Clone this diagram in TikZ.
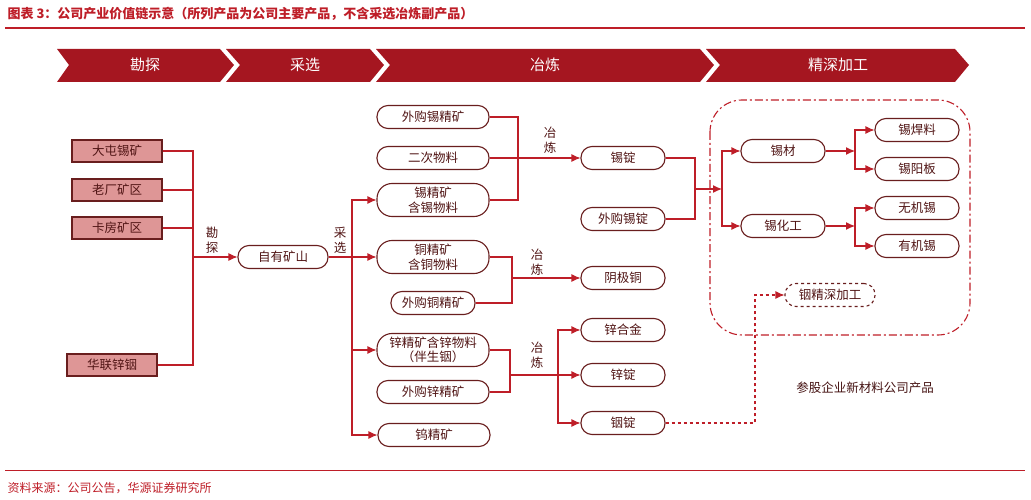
\documentclass[tikz,border=0pt]{standalone}
\usepackage{fontspec}
\setmainfont{Noto Sans CJK SC}
\usetikzlibrary{arrows.meta,positioning,shapes.arrows}

\definecolor{linered}{RGB}{190,30,40}
\definecolor{boxedge}{RGB}{105,30,30}
\definecolor{boxtext}{RGB}{80,20,20}
\definecolor{minefill}{RGB}{222,150,150}
\definecolor{bannerred}{RGB}{165,22,32}

\tikzset{
  pill/.style={draw=boxedge,line width=1.1pt,rounded corners=11pt,fill=white,
    minimum width=112pt,minimum height=23pt,inner sep=1pt,align=center,
    text=boxtext,font=\fontsize{12.5}{13}\selectfont},
  pill2/.style={pill,minimum height=33pt,rounded corners=15pt,
    font=\fontsize{12.5}{14.5}\selectfont},
  small pill/.style={pill,minimum width=84pt},
  mine/.style={draw=boxedge,line width=1.1pt,fill=minefill,minimum width=90pt,
    minimum height=22pt,text=boxtext,font=\fontsize{12.5}{13}\selectfont},
  stagelabel/.style={text=boxtext,font=\fontsize{12.5}{15}\selectfont,align=center},
  flow/.style={draw=linered,line width=1.1pt},
  arr/.style={flow,-{Latex[length=9pt,width=8pt]}},
  banner/.style={fill=bannerred,text=white,font=\fontsize{15}{16}\selectfont}
}

\begin{document}
\begin{tikzpicture}[x=1pt,y=-1pt]
\useasboundingbox (0,0) rectangle (1031,500);

% title
\node[anchor=west,text=linered,font=\fontsize{13}{14}\selectfont\bfseries] (title) at (4,14)
  {图表 3：公司产业价值链示意（所列产品为公司主要产品，不含采选冶炼副产品）};
\draw[linered,line width=1.4pt] (5,28) -- (1025,28);

% banner
\fill[bannerred] (57,49) -- (220,49) -- (234,65) -- (220,82) -- (57,82) -- (69,65) -- cycle;
\fill[bannerred] (226,49) -- (370,49) -- (384,65) -- (370,82) -- (226,82) -- (240,65) -- cycle;
\fill[bannerred] (376,49) -- (700,49) -- (714,65) -- (700,82) -- (376,82) -- (390,65) -- cycle;
\fill[bannerred] (706,49) -- (955,49) -- (969,65) -- (955,82) -- (706,82) -- (720,65) -- cycle;
\node[banner] (b1) at (145,65) {勘探};
\node[banner] (b2) at (305,65) {采选};
\node[banner] (b3) at (545,65) {冶炼};
\node[banner] (b4) at (838,65) {精深加工};

% mines
\node[mine] (datun) at (117,151) {大屯锡矿};
\node[mine] (laochang) at (117,190) {老厂矿区};
\node[mine] (kafang) at (117,228) {卡房矿区};
\node[mine] (hualian) at (112,365) {华联锌铟};
\node[pill,minimum width=90pt] (own) at (283,257) {自有矿山};
\coordinate (kt) at (193,257);
\draw[flow] (datun.east) -| (kt);
\draw[flow] (laochang.east) -| (kt);
\draw[flow] (kafang.east) -| (kt);
\draw[flow] (hualian.east) -| (kt);
\draw[arr] (kt) -- (own.west);
\node[stagelabel] (kantan) at (212,240) {勘\\探};

% concentrates
\node[pill] (wgxjk) at (433,117) {外购锡精矿};
\node[pill] (ercw) at (433,158) {二次物料};
\node[pill2] (xjk) at (433,200) {锡精矿\\含锡物料};
\node[pill2] (tjk) at (433,257) {铜精矿\\含铜物料};
\node[small pill] (wgtjk) at (433,303) {外购铜精矿};
\node[pill2] (xinjk) at (433,350) {锌精矿含锌物料\\（伴生铟）};
\node[pill] (wgxinjk) at (433,392) {外购锌精矿};
\node[pill] (wjk) at (434,435) {钨精矿};
\coordinate (cx) at (352,257);
\draw[flow] (own.east) -- (cx);
\draw[arr] (cx) |- (xjk.west);
\draw[arr] (cx) -- (tjk.west);
\draw[arr] (cx) |- (xinjk.west);
\draw[arr] (cx) |- (wjk.west);
\node[stagelabel] (caixuan) at (340,240) {采\\选};

% smelting
\node[small pill] (xd) at (623,158) {锡锭};
\node[small pill] (wgxd) at (623,219) {外购锡锭};
\node[small pill] (yjt) at (623,278) {阴极铜};
\node[small pill] (xhj) at (623,330) {锌合金};
\node[small pill] (xind) at (623,375) {锌锭};
\node[small pill] (yd) at (623,423) {铟锭};
\coordinate (ys1) at (518,158);
\coordinate (ys2) at (512,278);
\coordinate (ys3) at (510,375);
\coordinate (ys4) at (558,375);
\draw[flow] (wgxjk.east) -| (ys1);
\draw[flow] (xjk.east) -| (ys1);
\draw[arr] (ercw.east) -- (xd.west);
\draw[flow] (tjk.east) -| (ys2);
\draw[flow] (wgtjk.east) -| (ys2);
\draw[arr] (ys2) -- (yjt.west);
\draw[flow] (xinjk.east) -| (ys3);
\draw[flow] (wgxinjk.east) -| (ys3);
\draw[arr] (ys3) -- (xind.west);
\draw[arr] (ys4) |- (xhj.west);
\draw[arr] (ys4) |- (yd.west);
\node[stagelabel] (yl1) at (550,140) {冶\\炼};
\node[stagelabel] (yl2) at (537,262) {冶\\炼};
\node[stagelabel] (yl3) at (537,355) {冶\\炼};

% deep processing
\draw[linered,line width=1.1pt,dash pattern=on 8pt off 3pt on 2pt off 3pt,rounded corners=32pt]
  (710,100) rectangle (970,335);
\node[small pill] (xc) at (783,151) {锡材};
\node[small pill] (xhg) at (783,226) {锡化工};
\node[small pill] (xhl) at (917,130) {锡焊料};
\node[small pill] (xyb) at (917,169) {锡阳板};
\node[small pill] (wjx) at (917,208) {无机锡};
\node[small pill] (yjx) at (917,246) {有机锡};
\coordinate (jg1) at (695,189);
\coordinate (jg2) at (722,189);
\coordinate (jg3) at (855,151);
\coordinate (jg4) at (855,226);
\draw[flow] (xd.east) -| (jg1);
\draw[flow] (wgxd.east) -| (jg1);
\draw[arr] (jg1) -- (jg2);
\draw[arr] (jg2) |- (xc.west);
\draw[arr] (jg2) |- (xhg.west);
\draw[arr] (xc.east) -- (jg3);
\draw[arr] (jg3) |- (xhl.west);
\draw[arr] (jg3) |- (xyb.west);
\draw[arr] (xhg.east) -- (jg4);
\draw[arr] (jg4) |- (wjx.west);
\draw[arr] (jg4) |- (yjx.west);

\node[small pill,dashed,minimum width=90pt] (yjs) at (830,295) {铟精深加工};
\coordinate (yb) at (755,423);
\draw[arr,dashed] (yd.east) -- (yb) |- (yjs.west);
\node[stagelabel,text=boxtext!85!black] (cg) at (865,388) {参股企业新材料公司产品};

% source
\draw[linered,line width=0.6pt] (5,470) -- (1025,470);
\node[anchor=west,text=linered,font=\fontsize{12}{13}\selectfont] (src) at (4,488)
  {资料来源：公司公告，华源证券研究所};
\end{tikzpicture}
\end{document}
